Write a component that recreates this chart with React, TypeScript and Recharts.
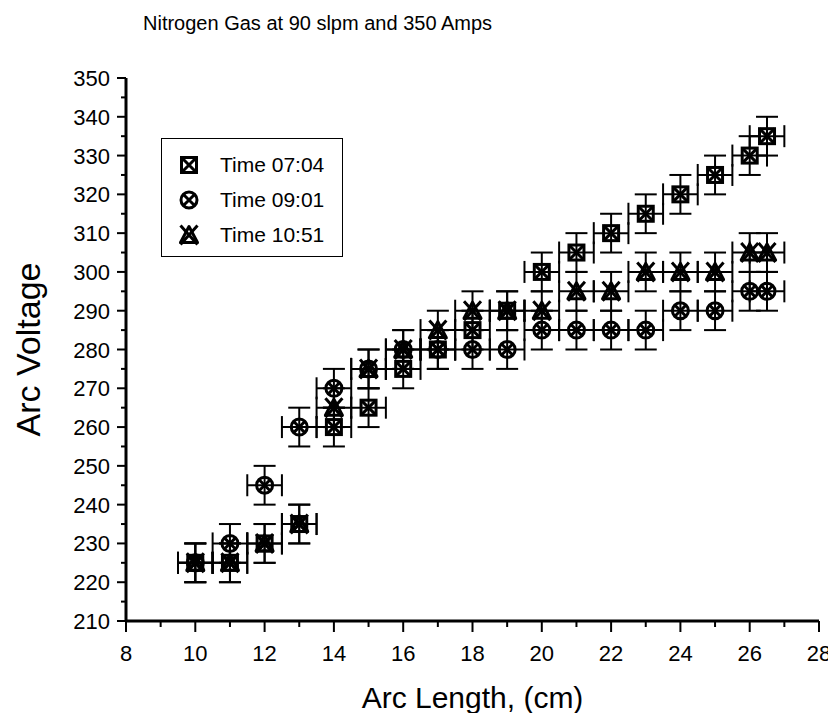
import { ScatterChart, Scatter, XAxis, YAxis, ErrorBar, Legend, Label, Customized } from 'recharts'

// arc length positions (cm), shared by all three runs
const arcLength = [10, 11, 12, 13, 14, 15, 16, 17, 18, 19, 20, 21, 22, 23, 24, 25, 26, 26.5]
const voltage0704 = [225, 225, 230, 235, 260, 265, 275, 280, 285, 290, 300, 305, 310, 315, 320, 325, 330, 335]
const voltage0901 = [225, 230, 245, 260, 270, 275, 280, 280, 280, 280, 285, 285, 285, 285, 290, 290, 295, 295]
const voltage1051 = [225, 225, 230, 235, 265, 275, 280, 285, 290, 290, 290, 295, 295, 300, 300, 300, 305, 305]
const lengthErr = 0.5
const voltageErr = 5

const xTicks = [8, 9, 10, 11, 12, 13, 14, 15, 16, 17, 18, 19, 20, 21, 22, 23, 24, 25, 26, 27, 28]
const yTicks = [
  210, 215, 220, 225, 230, 235, 240, 245, 250, 255, 260, 265, 270, 275, 280, 285, 290, 295, 300,
  305, 310, 315, 320, 325, 330, 335, 340, 345, 350,
]
const seriesNames = ['Time 07:04', 'Time 09:01', 'Time 10:51']

const FONT = '"Liberation Sans", Arial, sans-serif'

const toPoints = (v: number[]) =>
  arcLength.map((x, i) => ({ x, y: v[i], ex: lengthErr, ey: voltageErr }))

function SquareX({ cx, cy }: { cx: number; cy: number }) {
  const s = 7.5
  return (
    <g stroke="#000" strokeWidth={3} fill="none">
      <rect x={cx - s} y={cy - s} width={2 * s} height={2 * s} />
      <path d={`M${cx - s},${cy - s}L${cx + s},${cy + s}M${cx + s},${cy - s}L${cx - s},${cy + s}`} />
    </g>
  )
}

function CircleX({ cx, cy }: { cx: number; cy: number }) {
  const d = 5.8
  return (
    <g stroke="#000" strokeWidth={3} fill="none">
      <circle cx={cx} cy={cy} r={8} />
      <path d={`M${cx - d},${cy - d}L${cx + d},${cy + d}M${cx + d},${cy - d}L${cx - d},${cy + d}`} />
    </g>
  )
}

function TriangleX({ cx, cy }: { cx: number; cy: number }) {
  return (
    <g stroke="#000" strokeWidth={3} fill="none" strokeLinejoin="round">
      <path d={`M${cx},${cy - 8.5}L${cx + 8.5},${cy + 7.5}L${cx - 8.5},${cy + 7.5}Z`} />
      <path d={`M${cx - 8.5},${cy - 9.5}L${cx + 8.5},${cy + 9.5}M${cx + 8.5},${cy - 9.5}L${cx - 8.5},${cy + 9.5}`} />
    </g>
  )
}

const markers = [SquareX, CircleX, TriangleX]

function XTick({ x, y, payload }: any) {
  const major = payload.value % 2 === 0
  return (
    <g>
      <line x1={x} x2={x} y1={y} y2={y + (major ? 11 : 6)} stroke="#000" strokeWidth={2} />
      {major && (
        <text x={x} y={y + 40} textAnchor="middle" fontSize={22} fontFamily={FONT} fill="#000">
          {payload.value}
        </text>
      )}
    </g>
  )
}

function YTick({ x, y, payload }: any) {
  const major = payload.value % 10 === 0
  return (
    <g>
      <line x1={x} x2={x - (major ? 9 : 5)} y1={y} y2={y} stroke="#000" strokeWidth={2} />
      {major && (
        <text x={x - 16} y={y + 8} textAnchor="end" fontSize={22} fontFamily={FONT} fill="#000">
          {payload.value}
        </text>
      )}
    </g>
  )
}

function LegendBox() {
  return (
    <div
      style={{
        width: 182,
        height: 119,
        border: '1.5px solid #000',
        background: '#fff',
        boxSizing: 'border-box',
        paddingTop: 8,
      }}
    >
      {seriesNames.map((name, i) => {
        const M = markers[i]
        return (
          <div key={name} style={{ display: 'flex', alignItems: 'center', height: 35 }}>
            <svg width={20} height={22} style={{ marginLeft: 17, overflow: 'visible' }}>
              <M cx={10} cy={11} />
            </svg>
            <span style={{ marginLeft: 21, fontSize: 21, fontFamily: FONT, color: '#000' }}>{name}</span>
          </div>
        )
      })}
    </div>
  )
}

export default function App() {
  const series = [voltage0704, voltage0901, voltage1051]
  // the chart fills the whole window, so pull it over the body margin
  return (
    <div style={{ width: 836, height: 721, margin: -8 }}>
      <ScatterChart width={836} height={721} margin={{ top: 78, right: 17, bottom: 0, left: 0 }}>
        <Customized
          component={() => (
            <text x={143} y={30} fontSize={20} fontFamily={FONT} fill="#000">
              Nitrogen Gas at 90 slpm and 350 Amps
            </text>
          )}
        />
        <XAxis
          type="number"
          dataKey="x"
          domain={[8, 28]}
          ticks={xTicks}
          interval={0}
          height={100}
          tickSize={0}
          tickMargin={0}
          tickLine={false}
          tick={XTick}
          axisLine={{ stroke: '#000', strokeWidth: 3 }}
        >
          <Label
            content={({ viewBox }: any) => (
              <text
                x={viewBox.x + viewBox.width / 2}
                y={viewBox.y + 87}
                textAnchor="middle"
                fontSize={30}
                fontFamily={FONT}
                fill="#000"
              >
                Arc Length, (cm)
              </text>
            )}
          />
        </XAxis>
        <YAxis
          type="number"
          dataKey="y"
          domain={[210, 350]}
          ticks={yTicks}
          interval={0}
          width={126}
          tickSize={0}
          tickMargin={0}
          tickLine={false}
          tick={YTick}
          axisLine={{ stroke: '#000', strokeWidth: 3 }}
        >
          <Label
            content={({ viewBox }: any) => {
              const cy = viewBox.y + viewBox.height / 2
              return (
                <text
                  x={40}
                  y={cy}
                  transform={`rotate(-90, 40, ${cy})`}
                  textAnchor="middle"
                  fontSize={34}
                  fontFamily={FONT}
                  fill="#000"
                >
                  Arc Voltage
                </text>
              )
            }}
          />
        </YAxis>
        <Legend
          layout="horizontal"
          verticalAlign="middle"
          align="center"
          content={LegendBox}
          wrapperStyle={{ left: 161, top: 138, width: 182, height: 119 }}
        />
        {series.map((v, i) => (
          <Scatter
            key={seriesNames[i]}
            name={seriesNames[i]}
            data={toPoints(v)}
            shape={markers[i] as any}
            isAnimationActive={false}
          >
            <ErrorBar dataKey="ey" direction="y" width={11} stroke="#000" strokeWidth={2} />
            <ErrorBar dataKey="ex" direction="x" width={11} stroke="#000" strokeWidth={2} />
          </Scatter>
        ))}
      </ScatterChart>
    </div>
  )
}
